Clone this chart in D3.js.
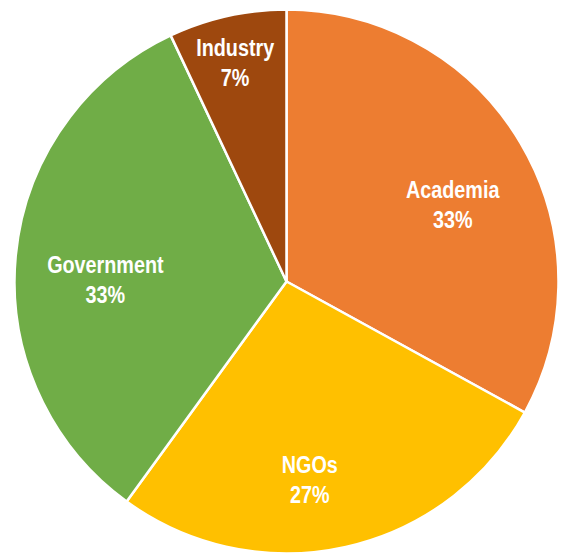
<!DOCTYPE html>
<html>
<head>
<meta charset="utf-8">
<script src="https://cdn.jsdelivr.net/npm/d3@7/dist/d3.min.js"></script>
<style>
  html, body { margin: 0; padding: 0; background: #fff; }
  svg { display: block; }
</style>
</head>
<body>
<svg id="chart" width="562" height="553"></svg>
<script>
const categories = ["Academia", "NGOs", "Government", "Industry"];
const values = [33, 27, 33, 7];
const percentLabels = ["33%", "27%", "33%", "7%"];
const colors = ["#ED7D31", "#FFC000", "#70AD47", "#9E480E"];

const W = 562, H = 553;
const cx = 286.5, cy = 281.5, R = 272;

// label nudges (layout only)
const nudge = {
  "Academia": [7, 18],
  "NGOs": [-17, 18],
  "Government": [3, 16],
  "Industry": [-11, -38]
};

const svg = d3.select("#chart");
const g = svg.append("g").attr("transform", `translate(${cx},${cy})`);

const data = categories.map((c, i) => ({ cat: c, value: values[i], pct: percentLabels[i], color: colors[i] }));

const pie = d3.pie().sort(null).value(d => d.value);
const arcs = pie(data);

const arc = d3.arc().innerRadius(0).outerRadius(R);
const labelArc = d3.arc().innerRadius(R * 0.68).outerRadius(R * 0.68);

g.selectAll("path.slice")
  .data(arcs)
  .join("path")
  .attr("class", "slice")
  .attr("d", arc)
  .attr("fill", d => d.data.color)
  .attr("stroke", "#ffffff")
  .attr("stroke-width", 2.5)
  .attr("stroke-linejoin", "round");

const labels = g.selectAll("text.lbl")
  .data(arcs)
  .join("text")
  .attr("class", "lbl")
  .attr("transform", d => {
    const [x, y] = labelArc.centroid(d);
    const n = nudge[d.data.cat] || [0, 0];
    return `translate(${x + n[0]},${y + n[1]}) scale(0.86,1)`;
  })
  .attr("text-anchor", "middle")
  .attr("fill", "#ffffff")
  .style("font-family", "'Liberation Sans', Arial, sans-serif")
  .style("font-weight", "bold")
  .style("font-size", "23px");

labels.append("tspan").attr("x", 0).attr("y", -7).text(d => d.data.cat);
labels.append("tspan").attr("x", 0).attr("y", 23).text(d => d.data.pct);
</script>
</body>
</html>
